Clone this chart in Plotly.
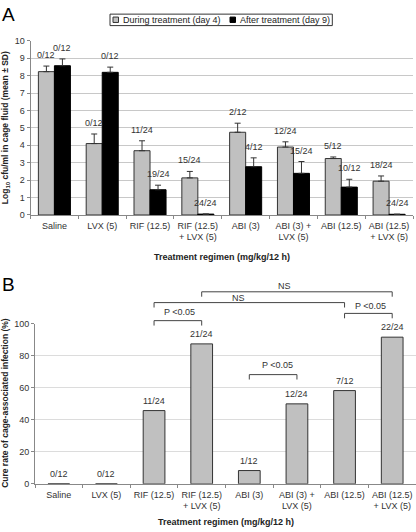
import plotly.graph_objects as go

# ---------------- data ----------------
categories = ["Saline", "LVX (5)", "RIF (12.5)", "RIF (12.5)<br>+ LVX (5)",
              "ABI (3)", "ABI (3) +<br>LVX (5)", "ABI (12.5)", "ABI (12.5)<br>+ LVX (5)"]

during_mean = [8.23, 4.10, 3.69, 2.13, 4.75, 3.90, 3.24, 1.94]
during_sd = [0.32, 0.55, 0.57, 0.37, 0.52, 0.30, 0.09, 0.30]
during_labels = ["0/12", "0/12", "11/24", "15/24", "2/12", "12/24", "5/12", "18/24"]

after_mean = [8.57, 8.19, 1.45, 0.05, 2.77, 2.39, 1.60, 0.04]
after_sd = [0.39, 0.30, 0.26, 0.0, 0.51, 0.68, 0.45, 0.0]
after_labels = ["0/12", "0/12", "19/24", "24/24", "4/12", "15/24", "10/12", "24/24"]

cure_rate = [0, 0, 45.8, 87.5, 8.3, 50.0, 58.3, 91.7]
cure_labels = ["0/12", "0/12", "11/24", "21/24", "1/12", "12/24", "7/12", "22/24"]

# ---------------- layout helpers ----------------
W, H = 416, 532
FONT = "Liberation Sans, Arial, sans-serif"
TXT = "#333333"
GRAY = "#c0c0c0"
BARGAP = 0.33
HALF = (1 - BARGAP) / 4  # offset of each grouped bar's centre from the category centre


def px(x):
    return x / W


def py(y):
    return 1 - y / H


fig = go.Figure()

err_style = dict(type="data", symmetric=False, color="#333333", thickness=1, width=3)

fig.add_trace(go.Bar(
    x=categories, y=during_mean, name="During treatment (day 4)",
    marker=dict(color=GRAY, line=dict(color="#333333", width=1)),
    error_y=dict(array=during_sd, arrayminus=[0] * len(during_sd), **err_style),
    xaxis="x", yaxis="y", showlegend=False, hoverinfo="skip"))

fig.add_trace(go.Bar(
    x=categories, y=after_mean, name="After treatment (day 9)",
    marker=dict(color="#000000", line=dict(color="#000000", width=1)),
    error_y=dict(array=after_sd, arrayminus=[0] * len(after_sd), **err_style),
    xaxis="x", yaxis="y", showlegend=False, hoverinfo="skip"))

fig.add_trace(go.Bar(
    x=categories, y=cure_rate, name="Cure rate", width=0.456,
    marker=dict(color=GRAY, line=dict(color="#333333", width=1)),
    xaxis="x2", yaxis="y2", showlegend=False, hoverinfo="skip"))

annotations = []
shapes = []

# data labels, panel A (numeric category positions)
for i, (m, s, lab) in enumerate(zip(during_mean, during_sd, during_labels)):
    annotations.append(dict(x=i - HALF, y=m + s, xref="x", yref="y", text=lab, showarrow=False,
                            yshift=11, yanchor="middle", xanchor="center",
                            font=dict(size=9, color=TXT, family=FONT)))
for i, (m, s, lab) in enumerate(zip(after_mean, after_sd, after_labels)):
    annotations.append(dict(x=i + HALF, y=m + s, xref="x", yref="y", text=lab, showarrow=False,
                            yshift=11, yanchor="middle", xanchor="center",
                            font=dict(size=9, color=TXT, family=FONT)))

# data labels, panel B
for i, (v, lab) in enumerate(zip(cure_rate, cure_labels)):
    annotations.append(dict(x=i, y=v, xref="x2", yref="y2", text=lab, showarrow=False,
                            yshift=10, yanchor="middle", xanchor="center",
                            font=dict(size=9, color=TXT, family=FONT)))

# significance brackets, panel B: (left cat index, right cat index, line y px, text, text x px, text y px)
brackets = [
    (2, 3, 321.7, "P &lt;0.05", 179, 313),
    (2, 6, 303.3, "NS", 238, 299),
    (3, 7, 292.3, "NS", 284, 286.7),
    (6, 7, 314.3, "P &lt;0.05", 370.7, 306.7),
    (4, 5, 376.7, "P &lt;0.05", 277.3, 367.3),
]
LEG = 5
for i0, i1, ly, t, tx, ty in brackets:
    line = dict(color="#444444", width=1)
    shapes.append(dict(type="line", xref="x2", yref="paper", x0=i0, x1=i1,
                       y0=py(ly), y1=py(ly), line=line))
    for ci in (i0, i1):
        shapes.append(dict(type="line", xref="x2", yref="paper", x0=ci, x1=ci,
                           y0=py(ly), y1=py(ly + LEG), line=line))
    annotations.append(dict(x=px(tx), y=py(ty), xref="paper", yref="paper", text=t, showarrow=False,
                            xanchor="center", yanchor="middle",
                            font=dict(size=9, color=TXT, family=FONT)))

# panel letters
annotations.append(dict(x=px(0), y=py(10), xref="paper", yref="paper", text="A", showarrow=False,
                        xanchor="left", yanchor="middle", font=dict(size=19, color="#000", family=FONT)))
annotations.append(dict(x=px(0), y=py(285), xref="paper", yref="paper", text="B", showarrow=False,
                        xanchor="left", yanchor="middle", font=dict(size=19, color="#000", family=FONT)))

# axis titles
title_font = dict(size=9, color="#222222", family=FONT, weight="bold")
annotations += [
    dict(x=px(221.75), y=py(256.7), xref="paper", yref="paper", text="Treatment regimen (mg/kg/12 h)",
         showarrow=False, xanchor="center", yanchor="middle", font=title_font),
    dict(x=px(225.5), y=py(526.7), xref="paper", yref="paper", text="Treatment regimen (mg/kg/12 h)",
         showarrow=False, xanchor="center", yanchor="middle", font=title_font),
    dict(x=px(5.5), y=py(125), xref="paper", yref="paper",
         text="Log<sub>10</sub> cfu/ml in cage fluid (mean ± SD)", textangle=-90,
         showarrow=False, xanchor="center", yanchor="middle",
         font=dict(size=8.5, color="#222222", family=FONT, weight="bold")),
    dict(x=px(5.5), y=py(406), xref="paper", yref="paper",
         text="Cure rate of cage-associated infection (%)", textangle=-90,
         showarrow=False, xanchor="center", yanchor="middle",
         font=dict(size=8.5, color="#222222", family=FONT, weight="bold")),
]

# manual legend (panel A)
shapes.append(dict(type="rect", xref="paper", yref="paper", x0=px(110), x1=px(332.3),
                   y0=py(21), y1=py(9.3), line=dict(color="#333333", width=1), fillcolor="white"))
shapes.append(dict(type="rect", xref="paper", yref="paper", x0=px(113), x1=px(118.5),
                   y0=py(17.8), y1=py(12.3), line=dict(color="#333333", width=1), fillcolor=GRAY))
shapes.append(dict(type="rect", xref="paper", yref="paper", x0=px(230), x1=px(235.5),
                   y0=py(17.8), y1=py(12.3), line=dict(color="#000000", width=1), fillcolor="#000000"))
annotations.append(dict(x=px(120.5), y=py(15), xref="paper", yref="paper", text="During treatment (day 4)",
                        showarrow=False, xanchor="left", yanchor="middle",
                        font=dict(size=9, color="#222222", family=FONT)))
annotations.append(dict(x=px(237.5), y=py(15), xref="paper", yref="paper", text="After treatment (day 9)",
                        showarrow=False, xanchor="left", yanchor="middle",
                        font=dict(size=9, color="#222222", family=FONT)))

tickfont = dict(size=9, color=TXT, family=FONT)
xcommon = dict(type="category", categoryorder="array", categoryarray=categories,
               tickson="boundaries", ticks="outside", ticklen=3, tickcolor="#888888",
               showline=True, linecolor="#888888", linewidth=1, showgrid=False,
               tickangle=0, tickfont=tickfont, ticklabelstandoff=2, fixedrange=True)
ycommon = dict(ticks="outside", ticklen=3, tickcolor="#888888", showline=True,
               linecolor="#888888", linewidth=1, showgrid=True, zeroline=False,
               tickfont=tickfont, fixedrange=True)

fig.update_layout(
    width=W, height=H,
    margin=dict(l=0, r=0, t=0, b=0),
    paper_bgcolor="white", plot_bgcolor="white",
    barmode="group", bargap=BARGAP, bargroupgap=0,
    font=dict(family=FONT, size=9, color=TXT),
    hovermode=False,
    xaxis=dict(domain=[px(30.5), px(413)], anchor="y", **xcommon),
    yaxis=dict(domain=[py(214), py(36.5)], anchor="x", range=[0, 10], dtick=1,
               gridcolor="#c8c8c8", **ycommon),
    xaxis2=dict(domain=[px(35), 1.0], anchor="y2", **xcommon),
    yaxis2=dict(domain=[py(488), py(325)], anchor="x2", range=[0, 100], dtick=20,
                gridcolor="#dcdcdc", **ycommon),
    annotations=annotations,
    shapes=shapes,
)

fig.write_html("out.html", config={"displayModeBar": False, "staticPlot": True},
               post_script="document.body.style.margin='0';document.body.style.overflow='hidden';")
